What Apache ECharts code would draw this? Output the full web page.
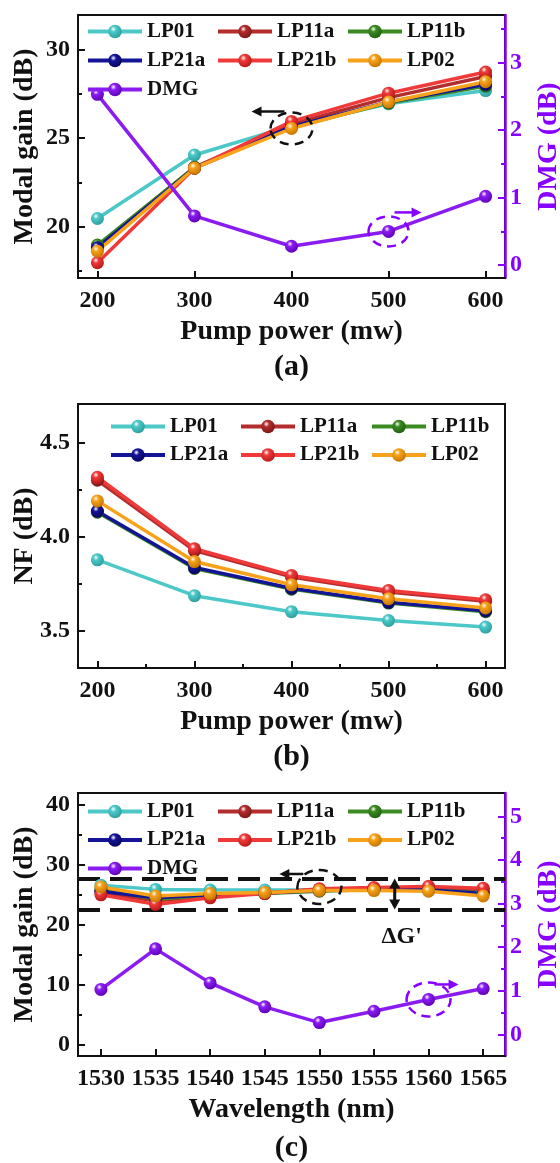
<!DOCTYPE html>
<html><head><meta charset="utf-8">
<script src="https://cdn.jsdelivr.net/npm/echarts@6/dist/echarts.min.js"></script>
<style>html,body{margin:0;padding:0;background:#fff}#c{width:560px;height:1163px}</style>
</head><body><div id="c"></div>
<script>
// ---------- data ----------
const modeNames = ['LP01', 'LP11a', 'LP11b', 'LP21a', 'LP21b', 'LP02'];
const pumpPower = [200, 300, 400, 500, 600];
// (a) modal gain vs pump power (dB)
const gainA_LP01  = [20.45, 24.05, 25.70, 26.95, 27.70];
const gainA_LP11a = [18.85, 23.35, 25.80, 27.30, 28.50];
const gainA_LP11b = [18.95, 23.35, 25.60, 27.00, 27.95];
const gainA_LP21a = [18.80, 23.30, 25.65, 27.05, 28.05];
const gainA_LP21b = [17.95, 23.30, 25.95, 27.55, 28.75];
const gainA_LP02  = [18.60, 23.30, 25.55, 27.05, 28.20];
const dmgA        = [2.53, 0.73, 0.28, 0.50, 1.02];
// (b) NF vs pump power (dB)
const nfB_LP01  = [3.876, 3.685, 3.600, 3.553, 3.518];
const nfB_LP11a = [4.300, 3.925, 3.785, 3.705, 3.655];
const nfB_LP11b = [4.130, 3.830, 3.720, 3.646, 3.600];
const nfB_LP21a = [4.135, 3.835, 3.725, 3.650, 3.605];
const nfB_LP21b = [4.316, 3.935, 3.793, 3.713, 3.663];
const nfB_LP02  = [4.190, 3.867, 3.743, 3.669, 3.620];
// (c) modal gain vs wavelength (dB)
const wavelength = [1530, 1535, 1540, 1545, 1550, 1555, 1560, 1565];
const gainC_LP01  = [26.6, 25.9, 25.8, 25.8, 25.8, 26.0, 25.9, 25.6];
const gainC_LP11a = [25.3, 24.0, 24.7, 25.3, 25.9, 26.1, 26.2, 25.8];
const gainC_LP11b = [25.9, 24.3, 24.9, 25.2, 25.6, 25.9, 25.8, 25.3];
const gainC_LP21a = [25.6, 24.5, 25.0, 25.3, 25.7, 25.9, 25.8, 25.2];
const gainC_LP21b = [25.0, 23.4, 24.5, 25.2, 26.0, 26.2, 26.4, 26.1];
const gainC_LP02  = [26.3, 24.8, 25.2, 25.4, 25.7, 25.7, 25.6, 24.8];
const dmgC        = [1.03, 1.96, 1.18, 0.63, 0.27, 0.53, 0.80, 1.05];
const gainBand = [22.55, 27.7];      // dashed band limits in (c)
const deltaGx = 1556.9;              // wavelength where the ΔG' arrow sits
// tick labels
const pumpTicks = [200, 300, 400, 500, 600];
const pumpMinor = [250, 350, 450, 550];
const gainTicksA = [20, 25, 30];
const gainMinorA = [17.5, 22.5, 27.5];
const dmgTicksA = [0, 1, 2, 3];
const dmgMinorA = [0.5, 1.5, 2.5, 3.5];
const nfTicks = [3.5, 4.0, 4.5];
const nfMinor = [3.75, 4.25];
const wlTicks = [1530, 1535, 1540, 1545, 1550, 1555, 1560, 1565];
const gainTicksC = [0, 10, 20, 30, 40];
const gainMinorC = [5, 15, 25, 35];
const dmgTicksC = [0, 1, 2, 3, 4, 5];
const dmgMinorC = [0.5, 1.5, 2.5, 3.5, 4.5];

// ---------- style ----------
const FONT = 'Liberation Serif';
const BLACK = '#111';
const PURPLE = '#8800ff';
const colors = {
  LP01: ['#4cc8c8', '#2a9a9a'],
  LP11a: ['#b32d2d', '#7a1515'],
  LP11b: ['#3b8a22', '#1f5c10'],
  LP21a: ['#141496', '#05055a'],
  LP21b: ['#f03a3a', '#b01515'],
  LP02: ['#f7a21a', '#c07000'],
  DMG: ['#8a1cf2', '#5a00b0']
};
function sphere(name) {
  const c = colors[name];
  return { type: 'radial', x: 0.38, y: 0.32, r: 0.75,
    colorStops: [{ offset: 0, color: '#ffffff' }, { offset: 0.28, color: c[0] }, { offset: 1, color: c[1] }] };
}
function lineSeries(name, xs, ys, xi, yi, extra) {
  return Object.assign({
    type: 'line', name: name, xAxisIndex: xi, yAxisIndex: yi,
    data: xs.map((x, i) => [x, ys[i]]),
    symbol: 'circle', symbolSize: 13, showSymbol: true,
    lineStyle: { color: colors[name][0], width: 3.5 },
    itemStyle: { color: sphere(name), borderWidth: 0 },
    emphasis: { disabled: true }, animation: false, z: 3
  }, extra || {});
}
const tickFont = { fontFamily: FONT, fontWeight: 'bold', fontSize: 24 };
const nameFont = { fontFamily: FONT, fontWeight: 'bold', fontSize: 28 };

function mainAxis(o) {
  const col = o.color || BLACK;
  const ax = {
    gridIndex: o.grid, type: 'value', min: o.min, max: o.max, position: o.pos,
    axisLine: { show: true, onZero: false, lineStyle: { color: col, width: o.lw || 2 } },
    axisTick: { show: true, inside: true, length: 7, customValues: o.ticks, lineStyle: { color: col, width: 2 } },
    axisLabel: Object.assign({ customValues: o.ticks, margin: o.margin, color: col, hideOverlap: false,
      formatter: o.fmt || (v => String(v)) }, tickFont),
    splitLine: { show: false }, minorTick: { show: false }
  };
  if (o.name) {
    ax.name = o.name; ax.nameLocation = 'middle'; ax.nameGap = o.nameGap; ax.nameMoveOverlap = false;
    ax.nameTextStyle = Object.assign({ color: col }, nameFont);
  }
  return ax;
}
function minorAxis(o) {
  const col = o.color || BLACK;
  return {
    gridIndex: o.grid, type: 'value', min: o.min, max: o.max, position: o.pos,
    axisLine: { show: false, onZero: false },
    axisTick: { show: true, inside: true, length: 4, customValues: o.ticks, lineStyle: { color: col, width: 2 } },
    axisLabel: { show: false }, splitLine: { show: false }
  };
}

const grids = [
  { left: 78, top: 15, width: 427, height: 263 },
  { left: 78, top: 404, width: 427, height: 264 },
  { left: 78, top: 793, width: 427, height: 263 }
].map(g => Object.assign(g, { show: true, borderColor: BLACK, borderWidth: 2, backgroundColor: 'transparent',
  containLabel: false, outerBoundsMode: 'none' }));

const xAxes = [
  mainAxis({ grid: 0, min: 180, max: 620, pos: 'bottom', ticks: pumpTicks, margin: 11, name: 'Pump power (mw)', nameGap: 40 }),
  mainAxis({ grid: 1, min: 180, max: 620, pos: 'bottom', ticks: pumpTicks, margin: 11, name: 'Pump power (mw)', nameGap: 40 }),
  minorAxis({ grid: 1, min: 180, max: 620, pos: 'bottom', ticks: pumpMinor }),
  mainAxis({ grid: 2, min: 1527.9, max: 1567, pos: 'bottom', ticks: wlTicks, margin: 11, name: 'Wavelength (nm)', nameGap: 40 })
];
const yAxes = [
  mainAxis({ grid: 0, min: 17.08, max: 31.98, pos: 'left', ticks: gainTicksA, margin: 8, name: 'Modal gain (dB)', nameGap: 39 }),
  minorAxis({ grid: 0, min: 17.08, max: 31.98, pos: 'left', ticks: gainMinorA }),
  mainAxis({ grid: 0, min: -0.19, max: 3.705, pos: 'right', ticks: dmgTicksA, margin: 5, color: PURPLE, lw: 2.5, name: 'DMG (dB)', nameGap: 30 }),
  minorAxis({ grid: 0, min: -0.19, max: 3.705, pos: 'right', ticks: dmgMinorA, color: PURPLE }),
  mainAxis({ grid: 1, min: 3.3, max: 4.706, pos: 'left', ticks: nfTicks, margin: 8, name: 'NF (dB)', nameGap: 39, fmt: v => v.toFixed(1) }),
  minorAxis({ grid: 1, min: 3.3, max: 4.706, pos: 'left', ticks: nfMinor }),
  mainAxis({ grid: 2, min: -1.83, max: 41.94, pos: 'left', ticks: gainTicksC, margin: 8, name: 'Modal gain (dB)', nameGap: 39 }),
  minorAxis({ grid: 2, min: -1.83, max: 41.94, pos: 'left', ticks: gainMinorC }),
  mainAxis({ grid: 2, min: -0.497, max: 5.535, pos: 'right', ticks: dmgTicksC, margin: 5, color: PURPLE, lw: 2.5, name: 'DMG (dB)', nameGap: 30 }),
  minorAxis({ grid: 2, min: -0.497, max: 5.535, pos: 'right', ticks: dmgMinorC, color: PURPLE })
];

const gainA = [gainA_LP01, gainA_LP11a, gainA_LP11b, gainA_LP21a, gainA_LP21b, gainA_LP02];
const nfB = [nfB_LP01, nfB_LP11a, nfB_LP11b, nfB_LP21a, nfB_LP21b, nfB_LP02];
const gainC = [gainC_LP01, gainC_LP11a, gainC_LP11b, gainC_LP21a, gainC_LP21b, gainC_LP02];

const series = [];
modeNames.forEach((n, i) => series.push(lineSeries(n, pumpPower, gainA[i], 0, 0)));
series.push(lineSeries('DMG', pumpPower, dmgA, 0, 2));
modeNames.forEach((n, i) => series.push(lineSeries(n, pumpPower, nfB[i], 1, 4)));
modeNames.forEach((n, i) => {
  const extra = i === 0 ? {
    markLine: {
      silent: true, symbol: 'none', animation: false, z: 2,
      label: { show: false },
      lineStyle: { color: BLACK, width: 4, type: [22, 10] },
      data: gainBand.map(v => ({ yAxis: v }))
    }
  } : {};
  series.push(lineSeries(n, wavelength, gainC[i], 3, 6, extra));
});
series.push(lineSeries('DMG', wavelength, dmgC, 3, 8));

const legendText = { fontFamily: FONT, fontWeight: 'bold', fontSize: 21, color: BLACK };
function legendCol(left, top, gap, data) {
  return { orient: 'vertical', left: left, top: top, padding: 0, itemWidth: 54, itemHeight: 17, itemGap: gap,
    lineStyle: { width: 4 }, textStyle: legendText, selectedMode: false, data: data };
}
const legends = [
  legendCol(86, 21, 8, ['LP01', 'LP21a', 'DMG']),
  legendCol(216, 21, 8, ['LP11a', 'LP21b']),
  legendCol(346, 21, 8, ['LP11b', 'LP02']),
  legendCol(109, 416, 7.5, ['LP01', 'LP21a']),
  legendCol(239, 416, 7.5, ['LP11a', 'LP21b']),
  legendCol(370, 416, 7.5, ['LP11b', 'LP02']),
  legendCol(86, 801, 7.5, ['LP01', 'LP21a', 'DMG']),
  legendCol(216, 801, 7.5, ['LP11a', 'LP21b']),
  legendCol(346, 801, 7.5, ['LP11b', 'LP02'])
];

const chart = echarts.init(document.getElementById('c'), null, { renderer: 'canvas' });
chart.setOption({
  animation: false, backgroundColor: '#fff',
  grid: grids, xAxis: xAxes, yAxis: yAxes, legend: legends, series: series
});

// ---------- annotations (positioned from data coordinates) ----------
function px(xi, yi, pt) { return chart.convertToPixel({ xAxisIndex: xi, yAxisIndex: yi }, pt); }
function dashedEllipse(c, rx, ry, color) {
  return { type: 'ellipse', z: 10, shape: { cx: c[0], cy: c[1], rx: rx, ry: ry },
    style: { fill: null, stroke: color, lineWidth: 2.5, lineDash: [9, 6] } };
}
function arrow(x1, y1, x2, y2, color) {
  const dir = Math.sign(x2 - x1) || 1;
  const h = 10;
  return [
    { type: 'line', z: 10, shape: { x1: x1, y1: y1, x2: x2 - dir * h * 0.6, y2: y2 }, style: { stroke: color, lineWidth: 2.5 } },
    { type: 'polygon', z: 10, shape: { points: [[x2, y2], [x2 - dir * h, y2 - 5], [x2 - dir * h, y2 + 5]] }, style: { fill: color } }
  ];
}
function vArrow(x, yTop, yBot, color) {
  const h = 10;
  return [
    { type: 'line', z: 10, shape: { x1: x, y1: yTop + h * 0.6, x2: x, y2: yBot - h * 0.6 }, style: { stroke: color, lineWidth: 3 } },
    { type: 'polygon', z: 10, shape: { points: [[x, yTop], [x - 5.5, yTop + h], [x + 5.5, yTop + h]] }, style: { fill: color } },
    { type: 'polygon', z: 10, shape: { points: [[x, yBot], [x - 5.5, yBot - h], [x + 5.5, yBot - h]] }, style: { fill: color } }
  ];
}
function panelLabel(text, gi, y) {
  const g = grids[gi];
  return { type: 'text', z: 10, x: g.left + g.width / 2, y: y,
    style: { text: text, align: 'center', verticalAlign: 'middle', fill: BLACK,
      font: 'bold 30px "' + FONT + '"' } };
}
const els = [];
// (a)
const pa = px(0, 0, [400, gainA_LP02[2]]);
els.push(dashedEllipse(pa, 21, 16, BLACK));
els.push(...arrow(pa[0] - 7, pa[1] - 17, pa[0] - 40, pa[1] - 17, BLACK));
const pd = px(0, 2, [500, dmgA[3]]);
els.push(dashedEllipse(pd, 20, 15, PURPLE));
els.push(...arrow(pd[0] + 6, pd[1] - 19, pd[0] + 33, pd[1] - 19, PURPLE));
// (c)
const pc = px(3, 6, [1550, 26.3]);
els.push(dashedEllipse(pc, 22, 17, BLACK));
els.push(...arrow(pc[0] - 16, pc[1] - 13, pc[0] - 40, pc[1] - 13, BLACK));
const pcd = px(3, 8, [1560, dmgC[6]]);
els.push(dashedEllipse(pcd, 22, 17, PURPLE));
els.push(...arrow(pcd[0] + 6, pcd[1] - 15, pcd[0] + 30, pcd[1] - 15, PURPLE));
const t = px(3, 6, [deltaGx, gainBand[1]]);
const b = px(3, 6, [deltaGx, gainBand[0]]);
els.push(...vArrow(t[0], t[1], b[1], BLACK));
els.push({ type: 'text', z: 10, x: t[0] + 7, y: b[1] + 27,
  style: { text: "ΔG'", align: 'center', verticalAlign: 'middle', fill: BLACK, font: 'bold 24px "' + FONT + '"' } });
// panel labels
els.push(panelLabel('(a)', 0, 367));
els.push(panelLabel('(b)', 1, 757));
els.push(panelLabel('(c)', 2, 1148));
chart.setOption({ graphic: els });
</script></body></html>
